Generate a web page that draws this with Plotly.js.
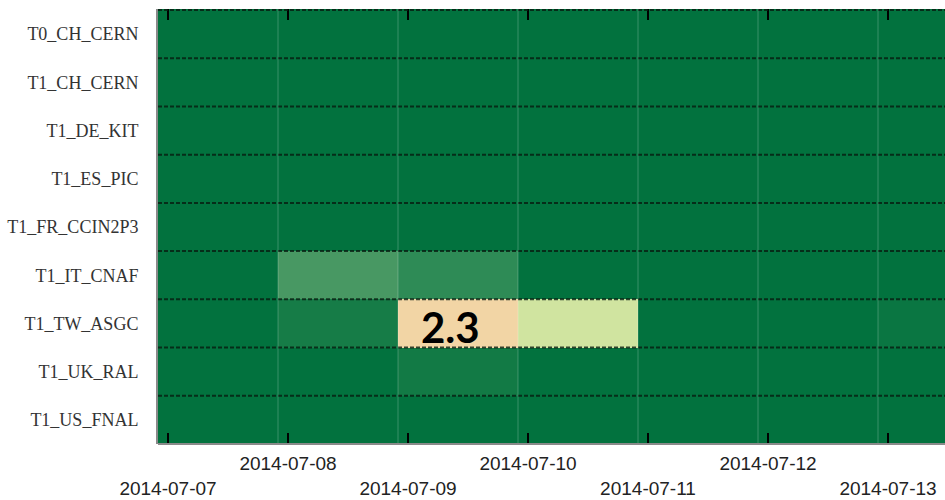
<!DOCTYPE html>
<html>
<head>
<meta charset="utf-8">
<script src="https://cdn.plot.ly/plotly-3.0.1.min.js"></script>
<style>
  html, body { margin: 0; padding: 0; background: #ffffff; }
  #chart { width: 945px; height: 500px; }
</style>
</head>
<body>
<div id="chart"></div>
<script>
// ---- data ----
const sites = ['T0_CH_CERN', 'T1_CH_CERN', 'T1_DE_KIT', 'T1_ES_PIC', 'T1_FR_CCIN2P3',
               'T1_IT_CNAF', 'T1_TW_ASGC', 'T1_UK_RAL', 'T1_US_FNAL'];
const days = ['2014-07-07', '2014-07-08', '2014-07-09', '2014-07-10',
              '2014-07-11', '2014-07-12', '2014-07-13'];
const tickLabels = ['2014-07-07', '2014-07-08', '2014-07-09', '2014-07-10',
                    '2014-07-11', '2014-07-12', '2014-07-13'];
const T0_CH_CERN    = [0, 0, 0, 0, 0, 0, 0];
const T1_CH_CERN    = [0, 0, 0, 0, 0, 0, 0];
const T1_DE_KIT     = [0, 0, 0, 0, 0, 0, 0];
const T1_ES_PIC     = [0, 0, 0, 0, 0, 0, 0];
const T1_FR_CCIN2P3 = [0, 0, 0, 0, 0, 0, 0];
const T1_IT_CNAF    = [0, 0.8, 0.5, 0, 0, 0, 0];
const T1_TW_ASGC    = [0, 0.25, 2.3, 1.6, 0, 0, 0.1];
const T1_UK_RAL     = [0, 0, 0.2, 0, 0, 0, 0];
const T1_US_FNAL    = [0, 0, 0, 0, 0, 0, 0];
const highlightSite = 'T1_TW_ASGC';
const highlightDay = '2014-07-09';

// ---- build ----
const z = [T0_CH_CERN, T1_CH_CERN, T1_DE_KIT, T1_ES_PIC, T1_FR_CCIN2P3,
           T1_IT_CNAF, T1_TW_ASGC, T1_UK_RAL, T1_US_FNAL];
const DAY = 86400000, OFFSET = 10 * 3600000; // cells run 22:00 -> 22:00
const t = d => new Date(d + 'T00:00:00Z').getTime();
const fmt = ms => new Date(ms).toISOString().replace('T', ' ').replace('Z', '');
const xCenters = days.map(d => fmt(t(d) + OFFSET));

const zmax = 2.3;
const colorscale = [
  [0, '#02723e'],
  [0.1 / zmax, '#0a7642'],
  [0.25 / zmax, '#167c47'],
  [0.5 / zmax, '#2e8b56'],
  [0.8 / zmax, '#489863'],
  [1.6 / zmax, '#d0e4a0'],
  [1, '#f2d5a5']
];

const trace = {
  type: 'heatmap',
  x: xCenters,
  y: sites,
  z: z,
  zmin: 0, zmax: zmax,
  colorscale: colorscale,
  showscale: false,
  hoverinfo: 'x+y+z'
};

const shapes = [];
// horizontal dashed separators (row boundaries + top edge)
for (let i = 0; i < sites.length; i++) {
  shapes.push({type: 'line', xref: 'paper', yref: 'y', x0: 0, x1: 1,
    y0: i - 0.5, y1: i - 0.5, layer: 'above',
    line: {color: 'rgba(8,28,16,0.8)', width: 2, dash: '4px,2px'}});
}
// vertical light separators between day columns
for (let j = 0; j < days.length; j++) {
  const b = fmt(t(days[j]) + OFFSET + DAY / 2);
  shapes.push({type: 'line', xref: 'x', yref: 'paper', x0: b, x1: b, y0: 0, y1: 1,
    layer: 'above', line: {color: 'rgba(255,255,255,0.22)', width: 1}});
}
// bottom frame line
shapes.push({type: 'line', xref: 'paper', yref: 'paper', x0: 0, x1: 1, y0: 0, y1: 0,
  layer: 'above', line: {color: '#8a8a8a', width: 2}});

const hi = sites.indexOf(highlightSite), hj = days.indexOf(highlightDay);
const annotations = [{
  x: xCenters[hj], y: highlightSite, xref: 'x', yref: 'y',
  text: '<b>' + String(z[hi][hj]) + '</b>', showarrow: false,
  xshift: -8, yshift: -4,
  font: {family: 'Lato, "Open Sans", sans-serif', size: 42, color: '#000000'}
}];

const layout = {
  width: 945, height: 500,
  margin: {l: 158, r: 0, t: 9, b: 56, pad: 0},
  paper_bgcolor: '#ffffff',
  plot_bgcolor: '#02723e',
  showlegend: false,
  xaxis: {
    type: 'date',
    range: [fmt(t(days[0]) - 2 * 3600000), fmt(t(days[0]) + 6.475 * DAY)],
    tickmode: 'array',
    tickvals: days,
    ticktext: tickLabels.map((s, i) => i % 2 === 0 ? '<br>' + s : s),
    ticks: 'inside', ticklen: 11, tickwidth: 2.5, tickcolor: '#000000',
    mirror: 'ticks', showline: false, showgrid: false, zeroline: false,
    layer: 'above traces',
    ticklabelstandoff: 6,
    tickfont: {family: '"Liberation Sans", Arial, sans-serif', size: 19, color: '#222222'},
    fixedrange: true
  },
  yaxis: {
    type: 'category',
    autorange: 'reversed',
    ticks: '', showgrid: false, zeroline: false,
    showline: true, linecolor: '#8a8a8a', linewidth: 2,
    ticklabelstandoff: 14,
    tickfont: {family: '"Liberation Serif", "Times New Roman", serif', size: 18, color: '#333333'},
    fixedrange: true
  },
  shapes: shapes,
  annotations: annotations
};

Plotly.newPlot('chart', [trace], layout, {displayModeBar: false, staticPlot: true});
</script>
</body>
</html>
